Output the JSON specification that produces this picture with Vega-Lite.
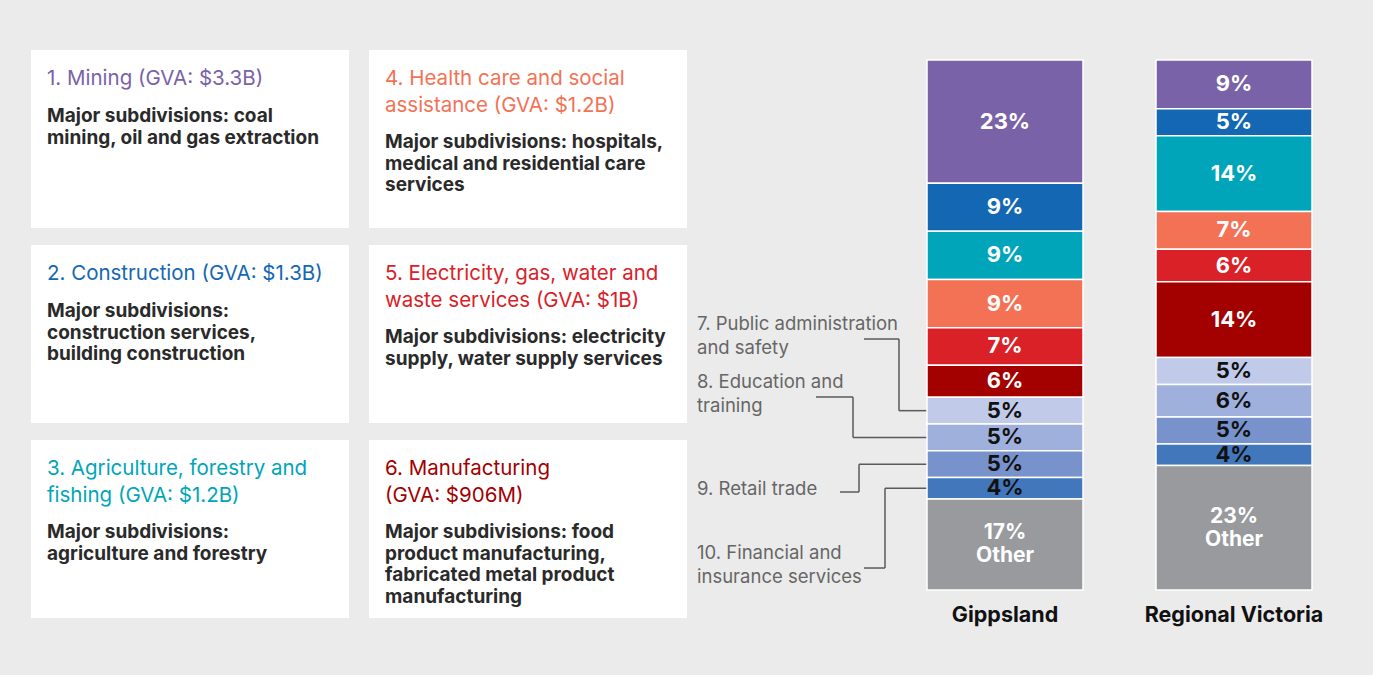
{
  "$schema": "https://vega.github.io/schema/vega-lite/v6.json",
  "background": "#ebebeb",
  "padding": {"left": 31, "top": 50, "right": 61, "bottom": 50},
  "spacing": 0,
  "bounds": "flush",
  "config": {"view": {"stroke": null}, "font": "Inter"},
  "datasets": {
    "industries": [
      {"rank": 1, "industry": "Mining", "title": "1. Mining (GVA: $3.3B)", "body": "Major subdivisions: coal\nmining, oil and gas extraction"},
      {"rank": 2, "industry": "Construction", "title": "2. Construction (GVA: $1.3B)", "body": "Major subdivisions:\nconstruction services,\nbuilding construction"},
      {"rank": 3, "industry": "Agriculture, forestry and fishing", "title": "3. Agriculture, forestry and\nfishing (GVA: $1.2B)", "body": "Major subdivisions:\nagriculture and forestry"},
      {"rank": 4, "industry": "Health care and social assistance", "title": "4. Health care and social\nassistance (GVA: $1.2B)", "body": "Major subdivisions: hospitals,\nmedical and residential care\nservices"},
      {"rank": 5, "industry": "Electricity, gas, water and waste services", "title": "5. Electricity, gas, water and\nwaste services (GVA: $1B)", "body": "Major subdivisions: electricity\nsupply, water supply services"},
      {"rank": 6, "industry": "Manufacturing", "title": "6. Manufacturing\n(GVA: $906M)", "body": "Major subdivisions: food\nproduct manufacturing,\nfabricated metal product\nmanufacturing"}
    ],
    "shares": [
      {"region": "Gippsland", "rank": 1, "industry": "Mining", "pct": 23},
      {"region": "Gippsland", "rank": 2, "industry": "Construction", "pct": 9},
      {"region": "Gippsland", "rank": 3, "industry": "Agriculture, forestry and fishing", "pct": 9},
      {"region": "Gippsland", "rank": 4, "industry": "Health care and social assistance", "pct": 9},
      {"region": "Gippsland", "rank": 5, "industry": "Electricity, gas, water and waste services", "pct": 7},
      {"region": "Gippsland", "rank": 6, "industry": "Manufacturing", "pct": 6},
      {"region": "Gippsland", "rank": 7, "industry": "Public administration and safety", "pct": 5},
      {"region": "Gippsland", "rank": 8, "industry": "Education and training", "pct": 5},
      {"region": "Gippsland", "rank": 9, "industry": "Retail trade", "pct": 5},
      {"region": "Gippsland", "rank": 10, "industry": "Financial and insurance services", "pct": 4},
      {"region": "Gippsland", "rank": 11, "industry": "Other", "pct": 17},
      {"region": "Regional Victoria", "rank": 1, "industry": "Mining", "pct": 9},
      {"region": "Regional Victoria", "rank": 2, "industry": "Construction", "pct": 5},
      {"region": "Regional Victoria", "rank": 3, "industry": "Agriculture, forestry and fishing", "pct": 14},
      {"region": "Regional Victoria", "rank": 4, "industry": "Health care and social assistance", "pct": 7},
      {"region": "Regional Victoria", "rank": 5, "industry": "Electricity, gas, water and waste services", "pct": 6},
      {"region": "Regional Victoria", "rank": 6, "industry": "Manufacturing", "pct": 14},
      {"region": "Regional Victoria", "rank": 7, "industry": "Public administration and safety", "pct": 5},
      {"region": "Regional Victoria", "rank": 8, "industry": "Education and training", "pct": 6},
      {"region": "Regional Victoria", "rank": 9, "industry": "Retail trade", "pct": 5},
      {"region": "Regional Victoria", "rank": 10, "industry": "Financial and insurance services", "pct": 4},
      {"region": "Regional Victoria", "rank": 11, "industry": "Other", "pct": 23}
    ],
    "callouts": [
      {"rank": 7, "label": "7. Public administration\n\u00a0and safety", "labelY": 0.4736, "startX": 0.7375, "elbowX": 0.8833},
      {"rank": 8, "label": "8. Education and\ntraining", "labelY": 0.3642, "startX": 0.5375, "elbowX": 0.6917},
      {"rank": 9, "label": "9. Retail trade", "labelY": 0.1849, "startX": 0.6375, "elbowX": 0.7167},
      {"rank": 10, "label": "10. Financial and\ninsurance services", "labelY": 0.0415, "startX": 0.7375, "elbowX": 0.825}
    ]
  },
  "hconcat": [
    {
      "width": 656,
      "height": 568,
      "data": {"name": "industries"},
      "transform": [
        {"calculate": "datum.rank <= 3 ? 1 : 2", "as": "col"},
        {"calculate": "(datum.rank - 1) % 3 + 1", "as": "row"}
      ],
      "layer": [
        {
          "mark": {"type": "rect", "fill": "white"},
          "encoding": {
            "x": {"field": "col", "type": "ordinal", "axis": null, "scale": {"paddingInner": 0.0592, "paddingOuter": 0}},
            "y": {"field": "row", "type": "ordinal", "axis": null, "scale": {"paddingInner": 0.0872, "paddingOuter": 0}}
          }
        },
        {
          "mark": {"type": "text", "align": "left", "baseline": "alphabetic", "dx": 16, "dy": 35, "fontSize": 20.5, "lineHeight": 26.5, "lineBreak": "\n"},
          "encoding": {
            "x": {"field": "col", "type": "ordinal", "axis": null, "bandPosition": 0},
            "y": {"field": "row", "type": "ordinal", "axis": null, "bandPosition": 0},
            "text": {"field": "title"},
            "color": {
              "field": "industry", "type": "nominal", "legend": null,
              "scale": {
                "domain": ["Mining", "Construction", "Agriculture, forestry and fishing", "Health care and social assistance", "Electricity, gas, water and waste services", "Manufacturing", "Public administration and safety", "Education and training", "Retail trade", "Financial and insurance services", "Other"],
                "range": ["#7a62a8", "#1467b3", "#00a5b9", "#f37255", "#da2128", "#a30000", "#c1cae8", "#9fb0dc", "#7893cc", "#4377bb", "#999a9e"]
              }
            }
          }
        },
        {
          "transform": [{"filter": "indexof(datum.title, '\\n') < 0"}],
          "mark": {"type": "text", "align": "left", "baseline": "alphabetic", "dx": 16, "dy": 72, "fontSize": 19, "fontWeight": "bold", "lineHeight": 21.5, "lineBreak": "\n", "color": "#2a2a2a"},
          "encoding": {
            "x": {"field": "col", "type": "ordinal", "axis": null, "bandPosition": 0},
            "y": {"field": "row", "type": "ordinal", "axis": null, "bandPosition": 0},
            "text": {"field": "body"}
          }
        },
        {
          "transform": [{"filter": "indexof(datum.title, '\\n') >= 0"}],
          "mark": {"type": "text", "align": "left", "baseline": "alphabetic", "dx": 16, "dy": 98, "fontSize": 19, "fontWeight": "bold", "lineHeight": 21.5, "lineBreak": "\n", "color": "#2a2a2a"},
          "encoding": {
            "x": {"field": "col", "type": "ordinal", "axis": null, "bandPosition": 0},
            "y": {"field": "row", "type": "ordinal", "axis": null, "bandPosition": 0},
            "text": {"field": "body"}
          }
        }
      ]
    },
    {
      "width": 240,
      "height": 554,
      "data": {"name": "shares"},
      "transform": [
        {"filter": "datum.region === 'Gippsland'"},
        {"stack": "pct", "groupby": ["region"], "sort": [{"field": "rank", "order": "descending"}], "offset": "normalize", "as": ["y0", "y1"]},
        {"calculate": "(datum.y0 + datum.y1) / 2", "as": "mid"},
        {"filter": "datum.rank >= 7 && datum.rank <= 10"},
        {"lookup": "rank", "from": {"data": {"name": "callouts"}, "key": "rank", "fields": ["label", "labelY", "startX", "elbowX"]}}
      ],
      "layer": [
        {
          "mark": {"type": "rule", "color": "#5a5a5a", "strokeWidth": 1.5},
          "encoding": {
            "x": {"field": "startX", "type": "quantitative", "axis": null, "scale": {"domain": [0, 1], "nice": false, "zero": false}},
            "x2": {"field": "elbowX"},
            "y": {"field": "labelY", "type": "quantitative", "axis": null, "scale": {"domain": [-0.026415, 1.018868], "nice": false, "zero": false}}
          }
        },
        {
          "mark": {"type": "rule", "color": "#5a5a5a", "strokeWidth": 1.5},
          "encoding": {
            "x": {"field": "elbowX", "type": "quantitative", "axis": null},
            "y": {"field": "labelY", "type": "quantitative", "axis": null},
            "y2": {"field": "mid"}
          }
        },
        {
          "mark": {"type": "rule", "color": "#5a5a5a", "strokeWidth": 1.5},
          "encoding": {
            "x": {"field": "elbowX", "type": "quantitative", "axis": null},
            "x2": {"datum": 1},
            "y": {"field": "mid", "type": "quantitative", "axis": null}
          }
        },
        {
          "transform": [{"filter": "indexof(datum.label, '\\n') >= 0"}],
          "mark": {"type": "text", "align": "left", "baseline": "middle", "dy": -15, "fontSize": 18.5, "lineHeight": 24, "lineBreak": "\n", "color": "#666666"},
          "encoding": {
            "x": {"datum": 0.0417, "type": "quantitative", "axis": null},
            "y": {"field": "labelY", "type": "quantitative", "axis": null},
            "text": {"field": "label"}
          }
        },
        {
          "transform": [{"filter": "indexof(datum.label, '\\n') < 0"}],
          "mark": {"type": "text", "align": "left", "baseline": "middle", "dy": -3, "fontSize": 18.5, "lineHeight": 24, "lineBreak": "\n", "color": "#666666"},
          "encoding": {
            "x": {"datum": 0.0417, "type": "quantitative", "axis": null},
            "y": {"field": "labelY", "type": "quantitative", "axis": null},
            "text": {"field": "label"}
          }
        }
      ]
    },
    {
      "width": 385,
      "height": 554,
      "data": {"name": "shares"},
      "transform": [
        {"stack": "pct", "groupby": ["region"], "sort": [{"field": "rank", "order": "descending"}], "offset": "normalize", "as": ["y0", "y1"]},
        {"calculate": "(datum.y0 + datum.y1) / 2", "as": "mid"},
        {"calculate": "datum.pct + '%' + (datum.rank === 11 ? '\\nOther' : '')", "as": "label"}
      ],
      "encoding": {
        "x": {
          "field": "region", "type": "nominal", "sort": ["Gippsland", "Regional Victoria"],
          "scale": {"paddingInner": 0.3188, "paddingOuter": 0},
          "axis": {"title": null, "domain": false, "ticks": false, "tickSize": 0, "labelPadding": 0, "labelFontSize": 21.5, "labelFontWeight": "bold", "labelColor": "#111111", "labelFont": "Inter", "labelAngle": 0}
        }
      },
      "layer": [
        {
          "mark": {"type": "bar", "stroke": "white", "strokeWidth": 1.5},
          "encoding": {
            "y": {"field": "y0", "type": "quantitative", "axis": null, "scale": {"domain": [-0.026415, 1.018868], "nice": false, "zero": false}},
            "y2": {"field": "y1"},
            "color": {
              "field": "industry", "type": "nominal", "legend": null,
              "scale": {
                "domain": ["Mining", "Construction", "Agriculture, forestry and fishing", "Health care and social assistance", "Electricity, gas, water and waste services", "Manufacturing", "Public administration and safety", "Education and training", "Retail trade", "Financial and insurance services", "Other"],
                "range": ["#7a62a8", "#1467b3", "#00a5b9", "#f37255", "#da2128", "#a30000", "#c1cae8", "#9fb0dc", "#7893cc", "#4377bb", "#999a9e"]
              }
            }
          }
        },
        {
          "transform": [{"filter": "datum.rank !== 11"}],
          "mark": {"type": "text", "baseline": "middle", "fontSize": 22, "fontWeight": "bold"},
          "encoding": {
            "y": {"field": "mid", "type": "quantitative"},
            "text": {"field": "label"},
            "color": {"condition": {"test": "datum.rank >= 7 && datum.rank <= 10", "value": "#111111"}, "value": "#ffffff"}
          }
        },
        {
          "transform": [{"filter": "datum.rank === 11"}],
          "mark": {"type": "text", "baseline": "middle", "dy": -11, "fontSize": 21, "fontWeight": "bold", "lineHeight": 23, "lineBreak": "\n", "color": "#ffffff"},
          "encoding": {
            "y": {"field": "mid", "type": "quantitative"},
            "text": {"field": "label"}
          }
        }
      ]
    }
  ]
}
